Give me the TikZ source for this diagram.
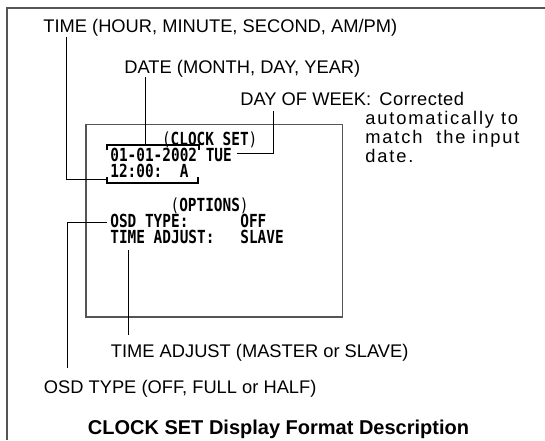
\documentclass[tikz,border=0pt]{standalone}
\usepackage{fontspec}
\setmainfont{Liberation Sans}
\newfontfamily\osdfont[FakeStretch=0.8]{DejaVu Sans Mono}
\usetikzlibrary{positioning}
\definecolor{rimgray}{HTML}{555555}

\begin{document}
\begin{tikzpicture}[x=0.5pt,y=-0.5pt,
  lbl/.style={inner sep=0pt,anchor=base west,font=\fontsize{9.15}{10}\selectfont},
  note/.style={lbl,font=\fontsize{9.15}{10}\selectfont\addfontfeature{LetterSpace=10}},
  osd/.style={inner sep=0pt,anchor=base west,font=\osdfont\fontsize{9}{10}\selectfont\bfseries},
  lead/.style={line width=0.5pt,black},
  brk/.style={line width=0.75pt,black},
  rim/.style={line width=0.8pt,rimgray}]
\useasboundingbox (0,0) rectangle (545,440);
\draw[rim] (545,8) -- (7,8) -- (7,440);
\draw[rim] (86,124.5) rectangle (342.5,317);
% labels round the screen
\node[lbl] (timelbl) at (43,32) {TIME (HOUR, MINUTE, SECOND, AM/PM)};
\node[lbl] (datelbl) at (124,73) {DATE (MONTH, DAY, YEAR)};
\node[lbl] (daylbl) at (240,105) {DAY OF WEEK:};
\node[lbl,font=\fontsize{9.15}{10}\selectfont\addfontfeature{LetterSpace=3}] (note1) at (379,105) {Corrected};
\node[note] (note2) at (365,124) {automatically to};
\node[note] (note3) at (365,143) {match~ the input};
\node[note] (note4) at (365,162) {date.};
\node[lbl] (adjlbl) at (110.5,357) {TIME ADJUST (MASTER or SLAVE)};
\node[lbl] (osdlbl) at (43.5,393.5) {OSD TYPE (OFF, FULL or HALF)};
\node[lbl,anchor=base,font=\fontsize{10}{12}\selectfont\bfseries] (title) at (278.5,434)
  {CLOCK SET Display Format Description};
% screen text
\node[osd] (clockhd) at (161.6,145) {{\mdseries(}CLOCK SET{\mdseries)}};
\node[osd] (dateosd) at (110,161) {01-01-2002~TUE};
\node[osd] (timeosd) at (110,177) {12:00:~~A};
\node[osd] (opthd) at (170.2,211) {{\mdseries(}OPTIONS{\mdseries)}};
\node[osd] (typeosd) at (110,227) {OSD TYPE:};
\node[osd] (typeval) at (240,227) {OFF};
\node[osd] (adjosd) at (110,243) {TIME ADJUST:};
\node[osd] (adjval) at (240,243) {SLAVE};
% brackets
\draw[brk] (107,150) -- (107,145) -- (199,145) -- (199,150);
\draw[brk] (107,177) -- (107,183) -- (198,183) -- (198,177);
\coordinate (tbrk) at (107,179);
\coordinate (dbrk) at (145,145);
\coordinate (wbrk) at (237,153);
\coordinate (obrk) at (107,222);
% leaders
\draw[lead] (timelbl.base west) ++(23,5) |- (tbrk);
\draw[lead] (datelbl.base west) ++(21,4) -- (dbrk);
\draw[lead] (daylbl.base west) ++(33,6) |- (wbrk);
\draw[lead] (osdlbl.base west) ++(23.5,-25.5) |- (obrk);
\draw[lead] (adjosd.base west) ++(18,7) -- ++(0,85);
\end{tikzpicture}
\end{document}
